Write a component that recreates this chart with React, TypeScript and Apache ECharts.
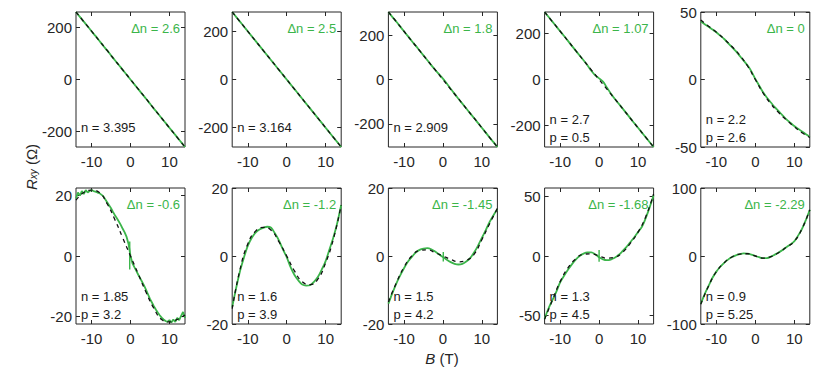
import React, { useEffect, useRef } from 'react';
import * as echarts from 'echarts';

// Magnetic field grids (T)
const B_STEP1 = [-14, -13, -12, -11, -10, -9, -8, -7, -6, -5, -4, -3, -2, -1, 0, 1, 2, 3, 4, 5, 6, 7, 8, 9, 10, 11, 12, 13, 14];
const B_STEP2 = [-14, -12, -10, -8, -6, -4, -2, 0, 2, 4, 6, 8, 10, 12, 14];
const B_HALF = [-14, -13.5, -13, -12.5, -12, -11.5, -11, -10.5, -10, -9.5, -9, -8.5, -8, -7.5, -7, -6.5, -6, -5.5, -5, -4.5, -4, -3.5, -3, -2.5, -2, -1.5, -1, -0.5, 0, 0.5, 1, 1.5, 2, 2.5, 3, 3.5, 4, 4.5, 5, 5.5, 6, 6.5, 7, 7.5, 8, 8.5, 9, 9.5, 10, 10.5, 11, 11.5, 12, 12.5, 13, 13.5, 14];

// Measured R_xy (Ω), green
const meas1 = [260, 241, 223, 205, 186, 168, 149, 130, 112, 93, 74, 56, 37, 19, 0, -19, -37, -56, -74, -93, -112, -130, -149, -167, -186, -204, -223, -241, -260];
const meas2 = [280, 260, 240, 220, 200, 180, 160, 140, 120, 100, 80, 60, 40, 20, 0, -20, -40, -60, -80, -100, -120, -140, -160, -180, -200, -220, -240, -260, -280];
const meas3 = [305, 283, 262, 240, 218, 196, 174, 153, 131, 109, 87, 65, 44, 24, 4, -18, -42, -65, -87, -109, -131, -153, -174, -196, -218, -240, -262, -283, -305];
const meas4 = [295, 274, 253, 232, 211, 190, 169, 147, 126, 105, 84, 62, 38, 18, 5, -9, -35, -61, -84, -105, -126, -147, -169, -190, -211, -232, -253, -274, -295];
const meas5 = [43, 41, 39, 37, 35, 32.5, 30, 27, 24, 21, 17.5, 14, 10.5, 6, 0.5, -4.5, -9.5, -13.5, -17, -20.5, -23.5, -26.5, -29.5, -32, -34.5, -36.5, -38.5, -40.5, -42.5];
const meas6 = [19, 21, 20, 21.5, 20.5, 21.8, 21, 21.5, 21.8, 21.5, 21.3, 21, 20.8, 20.3, 19.8, 18.8, 17.8, 16.8, 15.8, 14.6, 13.5, 12.5, 11.4, 10.3, 9, 7.8, 6.3, 4, 0, -2.4, -3.7, -4.9, -6.2, -7.4, -8.6, -9.8, -11.2, -12.7, -14.2, -15.4, -16.6, -17.7, -18.7, -19.6, -20.4, -21, -21.5, -21.8, -21.2, -22, -21, -21.8, -20.5, -21.2, -19.8, -18.5, -20.5];
const meas7 = [-15, -9.5, -4.5, -0.5, 3, 5.3, 6.9, 7.8, 8.3, 8.6, 8.3, 6.6, 4.6, 2, -0.3, -3.3, -5.6, -7.2, -8.4, -8.7, -8.6, -7.6, -6.2, -4, -1.5, 2, 5.5, 9.8, 15];
const meas8 = [-14, -11, -8.2, -5.8, -3.6, -1.7, -0.3, 1, 1.8, 2.2, 2.3, 2, 1.3, 0.5, -0.3, -1.1, -1.8, -2.3, -2.5, -2.3, -1.6, -0.6, 1, 3, 5.3, 7.6, 10, 12, 13.8];
const meas9 = [-52.5, -44, -37, -30, -22, -16.5, -11.5, -7, -3, 0, 2, 3, 3, 1.5, -1, -2.8, -3.5, -3, -1.5, 0.8, 4, 7.5, 11.5, 15.5, 20, 24.5, 32, 41, 51];
const meas10 = [-70, -56, -44, -32, -23, -15.8, -10, -5.3, -1.5, 1, 2.8, 3.8, 3.5, 2, 0, -1.8, -3.2, -3, -1, 2, 5.3, 9, 13, 17, 21.5, 30, 40, 53, 68];

// Short vertical glitches at B ≈ 0 in measured data
const glitch6 = [[-0.2, 4.8], [-0.2, -4.5]];
const glitch8 = [[0.1, 1.2], [0.1, -1.6]];
const glitch9 = [[0, 5], [0, -4.8]];

// Two-carrier fits (dashed, black), on B_STEP2
const fit1 = [260, 223, 186, 149, 112, 74, 37, 0, -37, -74, -112, -149, -186, -223, -260];
const fit2 = [280, 240, 200, 160, 120, 80, 40, 0, -40, -80, -120, -160, -200, -240, -280];
const fit3 = [305, 262, 218, 174, 131, 87, 44, 0, -44, -87, -131, -174, -218, -262, -305];
const fit4 = [295, 253, 211, 169, 126, 84, 42, 0, -42, -84, -126, -169, -211, -253, -295];
const fit5 = [44, 39.5, 35, 30, 24.5, 18, 10, 0, -10, -18, -24.5, -30, -35, -39.5, -43];
const fit6 = [18.5, 21, 21.8, 21, 17.3, 12, 6, 0, -6, -12, -17.3, -21, -21.8, -21, -19.5];
const fit7 = [-15.5, -4, 3.5, 7.3, 8.4, 7.6, 4.2, 0, -4.4, -7.6, -8.4, -6.8, -2, 5, 15];
const fit8 = [-13.5, -8, -3.3, 0, 1.6, 1.8, 1, 0, -1, -1.7, -1.3, 0.5, 4.8, 9.5, 14];
const fit9 = [-53, -37, -21.5, -10, -2.5, 1.5, 1.8, 0, -1.8, -1, 3, 10.5, 20, 33, 52];
const fit10 = [-71, -44, -23, -10, -1.5, 2.8, 3.3, 0, -3, -1, 5, 13, 21.5, 40, 68];

const deltaLabels = ['Δn = 2.6', 'Δn = 2.5', 'Δn = 1.8', 'Δn = 1.07', 'Δn = 0', 'Δn = -0.6', 'Δn = -1.2', 'Δn = -1.45', 'Δn = -1.68', 'Δn = -2.29'];
const carrierLabels = [
  ['n = 3.395'], ['n = 3.164'], ['n = 2.909'], ['n = 2.7', 'p = 0.5'], ['n = 2.2', 'p = 2.6'],
  ['n = 1.85', 'p = 3.2'], ['n = 1.6', 'p = 3.9'], ['n = 1.5', 'p = 4.2'], ['n = 1.3', 'p = 4.5'], ['n = 0.9', 'p = 5.25'],
];
const yLimits = [260, 280, 305, 295, 50, 22.5, 20, 20, 57, 100];
const yTickValues = [
  [-200, 0, 200], [-200, 0, 200], [-200, 0, 200], [-200, 0, 200], [-50, 0, 50],
  [-20, 0, 20], [-20, 0, 20], [-20, 0, 20], [-50, 0, 50], [-100, 0, 100],
];
const xTickValues = [-10, 0, 10];
const X_MIN = -14;
const X_MAX = 14;

const panels = [
  { b: B_STEP1, meas: meas1, fit: fit1, glitch: null },
  { b: B_STEP1, meas: meas2, fit: fit2, glitch: null },
  { b: B_STEP1, meas: meas3, fit: fit3, glitch: null },
  { b: B_STEP1, meas: meas4, fit: fit4, glitch: null },
  { b: B_STEP1, meas: meas5, fit: fit5, glitch: null },
  { b: B_HALF, meas: meas6, fit: fit6, glitch: glitch6 },
  { b: B_STEP1, meas: meas7, fit: fit7, glitch: null },
  { b: B_STEP1, meas: meas8, fit: fit8, glitch: glitch8 },
  { b: B_STEP1, meas: meas9, fit: fit9, glitch: glitch9 },
  { b: B_STEP1, meas: meas10, fit: fit10, glitch: null },
];

const GREEN = '#3bb54a';
const INK = '#262626';
const FONT = '"Liberation Sans", Arial, Helvetica, sans-serif';

export default function App() {
  const ref = useRef<HTMLDivElement>(null);
  useEffect(() => {
    if (!ref.current) return;
    const chart = echarts.init(ref.current, undefined, { renderer: 'svg' });

    const W = 109;
    const lefts = [76, 232.2, 388.4, 544.6, 700.8];
    const rows = [{ top: 12, height: 135 }, { top: 188, height: 136 }];

    const grids: any[] = [];
    const xAxes: any[] = [];
    const yAxes: any[] = [];
    const series: any[] = [];
    const graphics: any[] = [];

    panels.forEach((p, i) => {
      const col = i % 5;
      const row = rows[Math.floor(i / 5)];
      const left = lefts[col];
      grids.push({
        left, top: row.top, width: W, height: row.height,
        show: true, borderColor: INK, borderWidth: 1, backgroundColor: 'transparent',
      });
      const tick = { show: true, inside: true, length: 4, lineStyle: { color: INK, width: 1 } };
      const noLine = { show: false, onZero: false };
      xAxes.push({
        type: 'value', gridIndex: i, min: X_MIN, max: X_MAX, position: 'bottom',
        axisLine: noLine, splitLine: { show: false },
        axisTick: { ...tick, customValues: xTickValues },
        axisLabel: { customValues: xTickValues, fontSize: 15, color: INK, fontFamily: FONT, margin: 7 },
      });
      xAxes.push({
        type: 'value', gridIndex: i, min: X_MIN, max: X_MAX, position: 'top',
        axisLine: noLine, splitLine: { show: false },
        axisTick: { ...tick, customValues: xTickValues },
        axisLabel: { show: false },
      });
      const lim = yLimits[i];
      yAxes.push({
        type: 'value', gridIndex: i, min: -lim, max: lim, position: 'left',
        axisLine: noLine, splitLine: { show: false },
        axisTick: { ...tick, customValues: yTickValues[i] },
        axisLabel: { customValues: yTickValues[i], fontSize: 15, color: INK, fontFamily: FONT, margin: 4 },
      });
      yAxes.push({
        type: 'value', gridIndex: i, min: -lim, max: lim, position: 'right',
        axisLine: noLine, splitLine: { show: false },
        axisTick: { ...tick, customValues: yTickValues[i] },
        axisLabel: { show: false },
      });

      series.push({
        type: 'line', xAxisIndex: 2 * i, yAxisIndex: 2 * i,
        data: p.b.map((b, k) => [b, p.meas[k]]),
        showSymbol: false, smooth: p.b === B_HALF ? false : 0.3,
        lineStyle: { color: GREEN, width: 1.8 }, z: 2,
      });
      if (p.glitch) {
        series.push({
          type: 'line', xAxisIndex: 2 * i, yAxisIndex: 2 * i,
          data: p.glitch, showSymbol: false,
          lineStyle: { color: GREEN, width: 1.4 }, z: 2,
        });
      }
      series.push({
        type: 'line', xAxisIndex: 2 * i, yAxisIndex: 2 * i,
        data: B_STEP2.map((b, k) => [b, p.fit[k]]),
        showSymbol: false, smooth: true,
        lineStyle: { color: '#111', width: 1.3, type: [4, 4] }, z: 3,
      });

      // annotations
      graphics.push({
        type: 'text', x: left + W - 5, y: row.top + 16, z: 10,
        style: { text: deltaLabels[i], fill: GREEN, font: `13px ${FONT}`, align: 'right', verticalAlign: 'middle' },
      });
      const bottom = row.top + row.height;
      const lines = carrierLabels[i];
      if (lines.length === 1) {
        graphics.push({
          type: 'text', x: left + 5, y: bottom - 19.5, z: 10,
          style: { text: lines[0], fill: '#1a1a1a', font: `13px ${FONT}`, align: 'left', verticalAlign: 'middle' },
        });
      } else {
        graphics.push({
          type: 'text', x: left + 5, y: bottom - 27.5, z: 10,
          style: { text: lines[0], fill: '#1a1a1a', font: `13px ${FONT}`, align: 'left', verticalAlign: 'middle' },
        });
        graphics.push({
          type: 'text', x: left + 5, y: bottom - 10, z: 10,
          style: { text: lines[1], fill: '#1a1a1a', font: `13px ${FONT}`, align: 'left', verticalAlign: 'middle' },
        });
      }
    });

    // axis titles
    graphics.push({
      type: 'text', x: 31, y: 167, rotation: Math.PI / 2, z: 10,
      style: {
        text: '{i|R}{s|xy}{n| (Ω)}', align: 'center', verticalAlign: 'middle', fill: INK,
        rich: {
          i: { fontSize: 15, fontStyle: 'italic', fontFamily: FONT, fill: INK, lineHeight: 15, verticalAlign: 'top', padding: [0, 0, 2, 0] },
          s: { fontSize: 10, fontStyle: 'italic', fontFamily: FONT, fill: INK, lineHeight: 10, verticalAlign: 'bottom' },
          n: { fontSize: 15, fontFamily: FONT, fill: INK, lineHeight: 15, verticalAlign: 'top', padding: [0, 0, 2, 0] },
        },
      },
    });
    graphics.push({
      type: 'text', x: 442, y: 358, z: 10,
      style: {
        text: '{i|B}{n| (T)}', align: 'center', verticalAlign: 'middle', fill: INK,
        rich: {
          i: { fontSize: 15, fontStyle: 'italic', fontFamily: FONT, fill: INK },
          n: { fontSize: 15, fontFamily: FONT, fill: INK },
        },
      },
    });

    chart.setOption({
      animation: false,
      backgroundColor: '#ffffff',
      grid: grids,
      xAxis: xAxes,
      yAxis: yAxes,
      series,
      graphic: graphics,
    });
    return () => chart.dispose();
  }, []);

  return <div ref={ref} style={{ position: 'absolute', left: 0, top: 0, width: 830, height: 372 }} />;
}
